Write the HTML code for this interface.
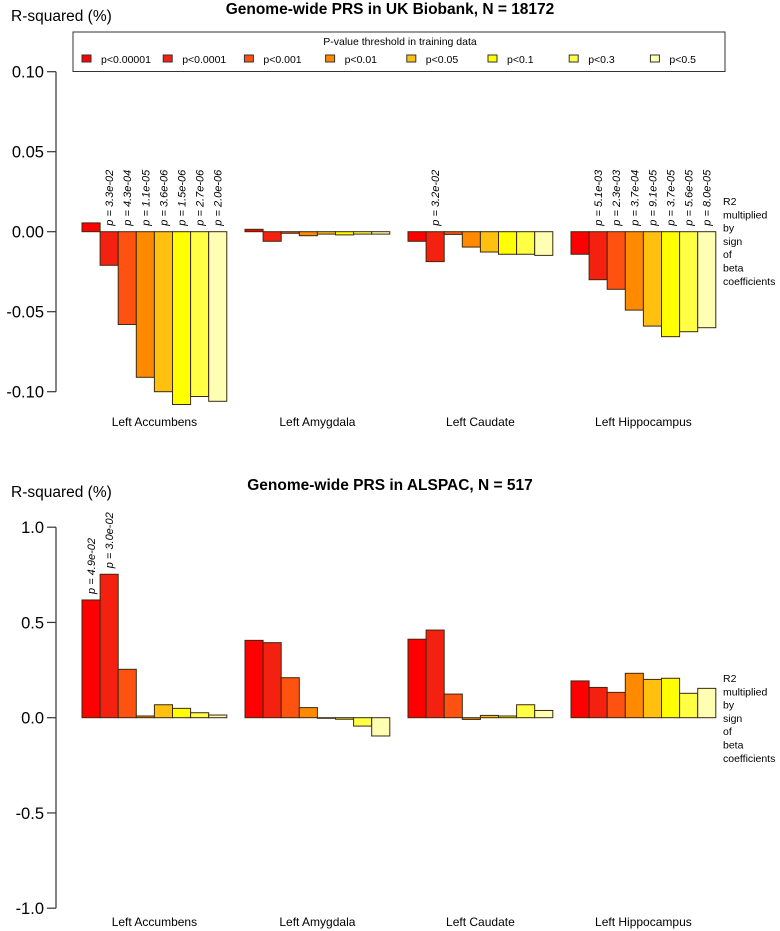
<!DOCTYPE html>
<html><head><meta charset="utf-8"><style>
body{margin:0;background:#fff;}
svg{display:block;font-family:"Liberation Sans",Arial,sans-serif;}
</style></head><body>
<svg id="chart" width="780" height="931" viewBox="0 0 780 931" xmlns="http://www.w3.org/2000/svg"></svg>
<script>
const regions = ["Left Accumbens","Left Amygdala","Left Caudate","Left Hippocampus"];
const thresholds = ["p<0.00001","p<0.0001","p<0.001","p<0.01","p<0.05","p<0.1","p<0.3","p<0.5"];
const colors = ["#ff0000","#f42010","#ff5210","#ff8a00","#ffc010","#ffff00","#ffff44","#ffffb4"];
const ukbValues = [
 [0.0055,-0.021,-0.058,-0.091,-0.100,-0.108,-0.103,-0.106],
 [0.0015,-0.006,-0.001,-0.0025,-0.0015,-0.002,-0.0015,-0.0015],
 [-0.006,-0.0187,-0.0017,-0.0096,-0.0127,-0.0141,-0.0141,-0.0148],
 [-0.0141,-0.030,-0.036,-0.049,-0.059,-0.0656,-0.0625,-0.060]
];
const ukbPvals = [
 ["","p = 3.3e-02","p = 4.3e-04","p = 1.1e-05","p = 3.6e-06","p = 1.5e-06","p = 2.7e-06","p = 2.0e-06"],
 ["","","","","","","",""],
 ["","p = 3.2e-02","","","","","",""],
 ["","p = 5.1e-03","p = 2.3e-03","p = 3.7e-04","p = 9.1e-05","p = 3.7e-05","p = 5.6e-05","p = 8.0e-05"]
];
const ukbTicks = [0.10,0.05,0.00,-0.05,-0.10];
const ukbTickLabels = ["0.10","0.05","0.00","-0.05","-0.10"];
const alsValues = [
 [0.618,0.753,0.254,0.009,0.068,0.049,0.026,0.014],
 [0.406,0.394,0.210,0.053,-0.003,-0.008,-0.044,-0.096],
 [0.412,0.460,0.124,-0.009,0.012,0.009,0.068,0.038],
 [0.193,0.159,0.133,0.233,0.201,0.207,0.128,0.154]
];
const alsPvals = [
 ["p = 4.9e-02","p = 3.0e-02","","","","","",""],
 ["","","","","","","",""],["","","","","","","",""],["","","","","","","",""]
];
const alsTicks = [1.0,0.5,0.0,-0.5,-1.0];
const alsTickLabels = ["1.0","0.5","0.0","-0.5","-1.0"];

const NS="http://www.w3.org/2000/svg";
const svg=document.getElementById('chart');
function mk(tag,attrs,parent,text){const e=document.createElementNS(NS,tag);for(const k in attrs)e.setAttribute(k,attrs[k]);if(text!==undefined)e.textContent=text;(parent||svg).appendChild(e);return e;}

const groupX0=[82,245,408,571], barW=18.1;
function xBar(g,i){return groupX0[g]+i*barW;}

function panel(cfg){
  const g=mk('g',{});
  
  
  const y=v=>cfg.y0-(v)*cfg.scale;
  const t=mk('text',{x:390,y:cfg.titleY,'text-anchor':'middle','font-size':'15.5','font-weight':'bold'},g,cfg.title);
  
  
  const yl=mk('text',{x:11,y:cfg.titleY+7,'font-size':'15.5'},g,'R-squared (%)');
  
  
  const ax=mk('line',{x1:56,x2:56,y1:y(cfg.ticks[0]),y2:y(cfg.ticks[cfg.ticks.length-1]),stroke:'#333','stroke-width':1.2},g);
  
  
  cfg.ticks.forEach((tv,i)=>{
    mk('line',{x1:47,x2:56,y1:y(tv),y2:y(tv),stroke:'#333','stroke-width':1.2},g);
    const tl=mk('text',{x:44,y:y(tv)+6,'text-anchor':'end','font-size':'16.5'},g,cfg.tickLabels[i]);
    
    
  });
  regions.forEach((r,gi)=>{
    cfg.values[gi].forEach((v,i)=>{
      const top=Math.min(y(v),y(0)), h=Math.abs(y(v)-y(0));
      const b=mk('rect',{x:xBar(gi,i),y:top,width:barW,height:Math.max(h,0.6),fill:colors[i],stroke:'#3a2a10','stroke-width':1},g);
      
      
      const p=cfg.pvals[gi][i];
      if(p){
        const cx=xBar(gi,i)+barW/2+4, sy=Math.min(y(v),y(0))-6;
        const pt=mk('text',{x:cx,y:sy,transform:`rotate(-90 ${cx} ${sy})`,'font-size':'11','font-style':'italic'},g,p);
        
        
      }
    });
    const gl=mk('text',{x:groupX0[gi]+barW*4,y:cfg.labelY,'text-anchor':'middle','font-size':'12'},g,r);
    
    
  });
  const note=mk('text',{x:723,y:cfg.noteY,'font-size':'10.5'},g);
  
  
  ["R2","multiplied","by","sign","of","beta","coefficients"].forEach((w,i)=>mk('tspan',{x:723,dy:i?13.3:0},note,w));
}

panel({name:'ukb-panel',title:'Genome-wide PRS in UK Biobank, N = 18172',titleY:14,y0:231.7,scale:1600,ticks:ukbTicks,tickLabels:ukbTickLabels,values:ukbValues,pvals:ukbPvals,labelY:426,noteY:205});
panel({name:'alspac-panel',title:'Genome-wide PRS in ALSPAC, N = 517',titleY:490,y0:717.7,scale:190.5,ticks:alsTicks,tickLabels:alsTickLabels,values:alsValues,pvals:alsPvals,labelY:926,noteY:682});

// legend
const lg=mk('g',{});


mk('rect',{x:73,y:32,width:652,height:39.5,fill:'#fff',stroke:'#333','stroke-width':1},lg);
mk('text',{x:400,y:45,'text-anchor':'middle','font-size':'10.5'},lg,'P-value threshold in training data');
thresholds.forEach((t,i)=>{
  const x=82+i*81.2;
  const e=mk('g',{},lg);
  
  
  mk('rect',{x:x,y:55,width:9,height:7,fill:colors[i],stroke:'#333','stroke-width':1},e);
  mk('text',{x:x+19,y:63,'font-size':'10.5'},e,t);
});
</script>
</body></html>
